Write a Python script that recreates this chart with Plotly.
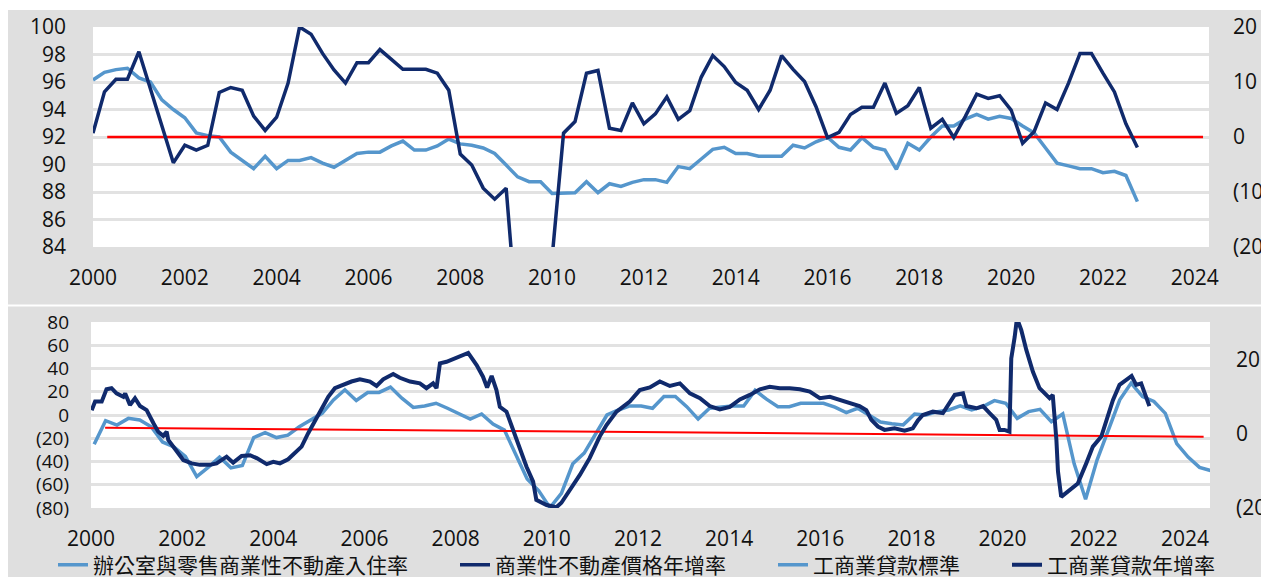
import plotly.graph_objects as go
from plotly.subplots import make_subplots

# the page puts the figure 8px in from the top-left corner of the window
OFF = 8
W, H = 1269 - OFF, 577 - OFF

## Data

# top panel, quarterly from 2000Q1
top_years = [2000 + 0.25 * i for i in range(92)]
occupancy = [
    96.15, 96.7, 96.9, 97.0, 96.3, 96.0, 94.7, 94.0, 93.4, 92.3, 92.1, 92.0,
    90.9, 90.3, 89.7, 90.6, 89.7, 90.3, 90.3, 90.5, 90.1, 89.8, 90.3, 90.8,
    90.9, 90.9, 91.35, 91.7, 91.05, 91.05, 91.35, 91.85, 91.5, 91.4, 91.2, 90.8,
    89.96, 89.1, 88.75, 88.75, 87.9, 87.95, 87.95, 88.75, 87.95, 88.6, 88.4, 88.7,
    88.9, 88.9, 88.7, 89.85, 89.7, 90.4, 91.1, 91.25, 90.8, 90.8, 90.6, 90.6,
    90.6, 91.4, 91.2, 91.65, 91.98, 91.25, 91.05, 91.95, 91.25, 91.05, 89.65, 91.55,
    91.05, 92.0, 92.8, 92.8, 93.3, 93.65, 93.3, 93.5, 93.35, 92.8, 92.3, 91.2,
    90.1, 89.9, 89.7, 89.7, 89.4, 89.5, 89.2, 87.3,
]
cre_price_yoy = [
    0.7, 8.2, 10.5, 10.5, 15.5, 8.8, 2.1, -4.7, -1.5, -2.4, -1.5, 8.1,
    9.0, 8.5, 3.8, 1.2, 3.6, 9.8, 20.0, 18.7, 15.2, 12.2, 9.8, 13.5,
    13.5, 15.9, 14.1, 12.3, 12.3, 12.3, 11.6, 8.5, -3.1, -5.1, -9.3, -11.3,
    -9.3, -35.0, -38.0, -36.0, -22.0, 0.7, 2.8, 11.6, 12.1, 1.6, 1.2, 6.2,
    2.4, 4.2, 7.3, 3.2, 4.8, 10.9, 14.8, 12.8, 9.9, 8.5, 5.0, 8.5,
    14.8, 12.3, 10.1, 5.5, -0.1, 0.85, 4.1, 5.4, 5.4, 9.8, 4.3, 5.7,
    9.0, 1.6, 3.2, -0.1, 3.7, 7.8, 7.0, 7.5, 4.9, -1.15, 0.97, 6.2,
    5.0, 9.8, 15.2, 15.2, 11.6, 8.2, 2.4, -1.9,
]
top_ref_x = [2000.31, 2024.18]
top_ref_y = [92, 92]

# bottom panel, loan standards quarterly (led), starting early 2000
std_years = [2000.07 + 0.25 * i for i in range(99)]
ci_standards = [
    -25.2, -4.9, -8.7, -2.9, -4.3, -10.1, -23.2, -27.5, -35.7, -53, -45, -36.2,
    -45.5, -43.5, -19.4, -15.1, -19.4, -17.4, -10.1, -4.3, 1.4, 13, 21.7, 12.5,
    19.4, 19.4, 24, 14.5, 6.5, 7.8, 10.1, 5.8, 0.9, -3.5, 0.9, -7.8,
    -13, -33.3, -55, -65, -79.7, -67.5, -42, -32.8, -15.9, 0, 4.3, 7.8,
    7.8, 5.8, 15.9, 15.9, 7.2, -3.5, 5.8, 6.7, 7.8, 7.8, 21.2, 13.6,
    7.2, 7.2, 10.1, 10.1, 10.1, 6.7, 2, 5.8, 0, -6, -7.5, -8.5,
    0.9, 0, 2.9, 4.3, 7.8, 4.3, 7.2, 12.4, 10.1, -2.9, 2.9, 4.9,
    -5.8, 0.9, -42, -72.5, -39, -13, 13, 27.5, 15.9, 11.6, 1.4, -24.6,
    -36.2, -45, -47.8,
]

loan_years = [
    2000.015, 2000.09, 2000.235, 2000.34, 2000.45, 2000.56, 2000.71, 2000.75, 2000.855, 2000.965,
    2001.075, 2001.22, 2001.37, 2001.475, 2001.585, 2001.66, 2001.695, 2001.88, 2002.025, 2002.21,
    2002.39, 2002.61, 2002.755, 2002.975, 2003.12, 2003.305, 2003.49, 2003.635, 2003.855, 2004.0,
    2004.145, 2004.325, 2004.475, 2004.62, 2004.765, 2004.91, 2005.06, 2005.205, 2005.35, 2005.535,
    2005.715, 2005.9, 2006.12, 2006.265, 2006.41, 2006.63, 2006.775, 2007.0, 2007.215, 2007.36,
    2007.505, 2007.58, 2007.655, 2007.8, 2007.98, 2008.13, 2008.275, 2008.46, 2008.6, 2008.69,
    2008.79, 2008.895, 2008.97, 2009.115, 2009.26, 2009.41, 2009.555, 2009.7, 2009.77, 2009.995,
    2010.21, 2010.32, 2010.505, 2010.725, 2010.94, 2011.16, 2011.31, 2011.53, 2011.82, 2012.04,
    2012.26, 2012.48, 2012.7, 2012.92, 2013.14, 2013.36, 2013.575, 2013.795, 2014.015, 2014.235,
    2014.455, 2014.675, 2014.89, 2015.11, 2015.33, 2015.55, 2015.77, 2015.99, 2016.21, 2016.43,
    2016.65, 2016.86, 2017.01, 2017.12, 2017.265, 2017.41, 2017.63, 2017.85, 2018.03, 2018.14,
    2018.25, 2018.47, 2018.69, 2018.84, 2018.95, 2019.13, 2019.205, 2019.425, 2019.57, 2019.715,
    2019.86, 2019.935, 2020.04, 2020.15, 2020.19, 2020.265, 2020.315, 2020.41, 2020.52, 2020.665,
    2020.81, 2021.03, 2021.1, 2021.18, 2021.215, 2021.285, 2021.47, 2021.65, 2021.835, 2021.98,
    2022.165, 2022.31, 2022.42, 2022.565, 2022.75, 2022.83, 2022.93, 2023.04, 2023.22,
]
ci_loan_yoy = [
    6.3, 8.6, 8.6, 11.9, 12.2, 10.8, 9.9, 10.8, 7.7, 9.5,
    7.4, 6.3, 2.8, 0.5, -0.6, 0.5, -1.7, -4.9, -7.1, -8.0,
    -8.4, -8.4, -8.0, -6.2, -7.8, -6.0, -5.8, -6.6, -8.2, -7.6,
    -8.0, -6.9, -5.3, -3.5, 0.1, 3.2, 6.8, 9.9, 12.2, 13.1,
    14.0, 14.6, 14.0, 12.8, 14.6, 16.0, 15.0, 14.0, 13.5, 12.2,
    13.5, 12.2, 18.9, 19.3, 20.2, 20.9, 21.7, 18.4, 15.3, 12.4,
    15.5, 11.7, 7.2, 5.9, 1.0, -3.5, -8.9, -12.9, -17.8, -19.2,
    -19.8, -18.6, -15.2, -11.1, -6.6, -0.8, 2.3, 5.9, 8.6, 11.7,
    12.4, 14.0, 12.8, 13.5, 10.8, 9.5, 7.4, 6.5, 7.2, 9.2,
    10.4, 11.9, 12.6, 12.2, 12.2, 11.9, 11.3, 9.5, 9.9, 9.0,
    8.1, 7.4, 6.3, 3.7, 1.9, 1.0, 1.4, 0.8, 1.4, 3.5,
    5.0, 5.9, 5.5, 8.6, 10.4, 10.8, 7.4, 6.8, 7.4, 5.5,
    3.7, 1.0, 1.0, 0.5, 20.2, 26.0, 31.0, 27.8, 22.5, 16.6,
    12.2, 9.5, 10.4, -1.7, -10.2, -17.0, -15.2, -13.4, -8.0, -3.5,
    -0.8, 4.5, 9.0, 13.1, 14.9, 15.5, 13.1, 13.5, 7.4,
]
bot_ref_x = [2000.31, 2024.41]
bot_ref_y = [-10.9, -18.7]

names = ["辦公室與零售商業性不動產入住率", "商業性不動產價格年增率", "工商業貸款標準", "工商業貸款年增率"]

left_top_ticks = list(range(84, 101, 2))
right_top_ticks = [-20, -10, 0, 10, 20]
left_bot_ticks = list(range(-80, 81, 20))
right_bot_ticks = [-20, 0, 20]

## Style

LIGHT = "#5596cc"
NAVY = "#102a6c"
RED = "#ff0000"
PANEL = "#dfdfdf"
GRID = "#e2e2e2"
FONT = "Open Sans, Noto Sans CJK TC, sans-serif"
PAD = "\u3000\u3000"  # keeps the legend entries spread like the original


def fmt(v):
    return f"({abs(v)})" if v < 0 else f"{v}"


# window pixels -> paper fractions
def px(x):
    return (x - OFF) / W


def py(y):
    return 1 - (y - OFF) / H


fig = make_subplots(rows=2, cols=1, specs=[[{"secondary_y": True}], [{"secondary_y": True}]])

fig.add_trace(go.Scatter(x=top_years, y=occupancy, name=names[0] + PAD, mode="lines",
                         line=dict(color=LIGHT, width=3.5)), row=1, col=1, secondary_y=False)
fig.add_trace(go.Scatter(x=top_years, y=cre_price_yoy, name=names[1] + PAD, mode="lines",
                         line=dict(color=NAVY, width=3.5)), row=1, col=1, secondary_y=True)
fig.add_trace(go.Scatter(x=std_years, y=ci_standards, name=names[2] + PAD, mode="lines",
                         line=dict(color=LIGHT, width=3.5)), row=2, col=1, secondary_y=False)
fig.add_trace(go.Scatter(x=loan_years, y=ci_loan_yoy, name=names[3], mode="lines",
                         line=dict(color=NAVY, width=4)), row=2, col=1, secondary_y=True)
fig.add_trace(go.Scatter(x=top_ref_x, y=top_ref_y, mode="lines", showlegend=False,
                         line=dict(color=RED, width=2.5)), row=1, col=1, secondary_y=False)
fig.add_trace(go.Scatter(x=bot_ref_x, y=bot_ref_y, mode="lines", showlegend=False,
                         line=dict(color=RED, width=2)), row=2, col=1, secondary_y=False)

tickfont = dict(family=FONT, size=21, color="#111111")
smallfont = dict(family=FONT, size=19, color="#111111")
xcommon = dict(dtick=2, tickformat="d", showgrid=False, zeroline=False, showline=False,
               ticks="", tickfont=tickfont, ticklabelstandoff=16, automargin=False)

fig.update_layout(
    width=W, height=H,
    margin=dict(l=0, r=0, t=0, b=0, autoexpand=False),
    paper_bgcolor=PANEL, plot_bgcolor="white",
    showlegend=True,
    legend=dict(orientation="h", x=px(53), xanchor="left", y=py(565), yanchor="middle",
                bgcolor="rgba(0,0,0,0)", font=dict(family=FONT, size=21, color="#111111")),
    xaxis=dict(domain=[px(93), px(1209)], range=[2000, 2024.31], **xcommon),
    xaxis2=dict(domain=[px(91), px(1210)], range=[2000, 2024.55], **xcommon),
    yaxis=dict(domain=[py(247), py(27)], range=[84, 100], tickvals=left_top_ticks,
               ticktext=[fmt(v) for v in left_top_ticks], showgrid=True, gridcolor=GRID,
               gridwidth=2.5, zeroline=False, tickfont=tickfont, ticklabelstandoff=26,
               automargin=False),
    yaxis2=dict(range=[-20, 20], tickvals=right_top_ticks, ticktext=[fmt(v) for v in right_top_ticks],
                showgrid=False, zeroline=False, tickfont=tickfont, ticklabelstandoff=23,
                automargin=False),
    yaxis3=dict(domain=[py(508), py(322)], range=[-80, 80], tickvals=left_bot_ticks,
                ticktext=[fmt(v) for v in left_bot_ticks], showgrid=True, gridcolor=GRID,
                gridwidth=2.5, zeroline=False, tickfont=smallfont, ticklabelstandoff=21,
                automargin=False),
    yaxis4=dict(range=[-20, 30], tickvals=right_bot_ticks, ticktext=[fmt(v) for v in right_bot_ticks],
                showgrid=False, zeroline=False, tickfont=tickfont, ticklabelstandoff=25,
                automargin=False),
)

# white strips: above the top panel and between the two panels
for x0, y0, x1, y1 in [(OFF, OFF, 1269, 10), (OFF, 304.5, 1269, 306.5)]:
    fig.add_shape(type="rect", xref="paper", yref="paper", x0=px(x0), x1=px(x1),
                  y0=py(y1), y1=py(y0), fillcolor="white", line_width=0, layer="below")

fig.write_html("out.html")
